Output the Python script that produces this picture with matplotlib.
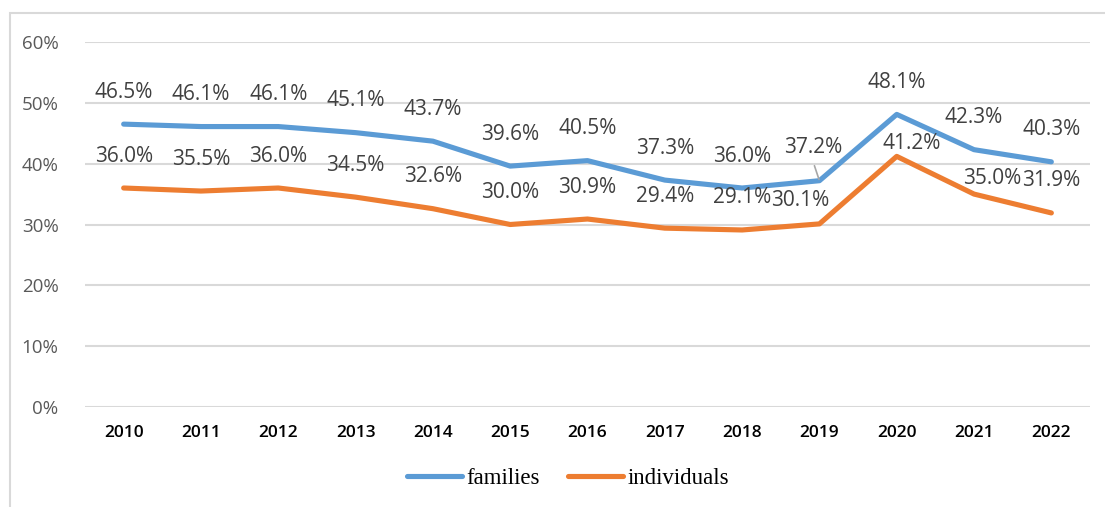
import matplotlib
matplotlib.use("Agg")
import matplotlib.pyplot as plt
import matplotlib.patches as mpatches
import numpy as np

years = ["2010", "2011", "2012", "2013", "2014", "2015", "2016",
         "2017", "2018", "2019", "2020", "2021", "2022"]
families = [46.5, 46.1, 46.1, 45.1, 43.7, 39.6, 40.5, 37.3, 36.0, 37.2, 48.1, 42.3, 40.3]
individuals = [36.0, 35.5, 36.0, 34.5, 32.6, 30.0, 30.9, 29.4, 29.1, 30.1, 41.2, 35.0, 31.9]
yticks = [0, 10, 20, 30, 40, 50, 60]

BLUE = "#5B9BD5"
ORANGE = "#ED7D31"
GRID = "#D9D9D9"

# label offsets in pixels (dx, dy) where the default (0, 32) was moved
fam_off = {9: (-6, 33)}
ind_off = {9: (-19, 23), 10: (15, 13), 11: (18, 16)}

W, H = 1105, 507
fig = plt.figure(figsize=(W / 100, H / 100), dpi=100)
ax = fig.add_axes([85 / W, (H - 407) / H, (1090 - 85) / W, (407 - 42) / H])

# outer chart border (cropped on the right and bottom)
fig.patches.append(mpatches.Rectangle((10 / W, -0.1), 1.2, (H - 13) / H + 0.1,
                                      transform=fig.transFigure, fill=False,
                                      edgecolor=GRID, lw=1.5))

x = np.arange(len(years))
ax.plot(x, families, color=BLUE, lw=3.7, solid_capstyle="round", label="families", zorder=3)
ax.plot(x, individuals, color=ORANGE, lw=3.7, solid_capstyle="round", label="individuals", zorder=3)

px = 0.72  # points per pixel
for series, offs in ((families, fam_off), (individuals, ind_off)):
    for i, v in enumerate(series):
        dx, dy = offs.get(i, (0, 32))
        ax.annotate(f"{v:.1f}%", (i, v), xytext=(dx * px, dy * px),
                    textcoords="offset points", ha="center", va="center",
                    fontsize=15, color="#404040", family="Open Sans", zorder=4)

# leader line for the 2019 families label
ax.annotate("", (9, families[9]), xytext=(-5 * px, 15 * px), textcoords="offset points",
            arrowprops=dict(arrowstyle="-", color="#A6A6A6", lw=1.2,
                            shrinkA=0, shrinkB=1))

ax.set_xlim(-0.5, len(years) - 0.5)
ax.set_ylim(0, 60)
ax.set_yticks(yticks)
ax.set_yticklabels([f"{t}%" for t in yticks], fontsize=13.5, color="#595959", family="Open Sans")
ax.set_xticks(x)
ax.set_xticklabels(years, fontsize=12.5, color="black", family="Open Sans", fontweight="semibold")
ax.tick_params(axis="both", length=0)
ax.tick_params(axis="y", pad=19)
ax.tick_params(axis="x", pad=13)
ax.yaxis.grid(True, color=GRID, lw=1.5)
ax.set_axisbelow(True)
for s in ax.spines.values():
    s.set_visible(False)

leg = fig.legend(loc="center", bbox_to_anchor=(568 / W, (H - 478) / H), ncol=2,
                 frameon=False, prop={"family": "Liberation Serif", "size": 16.5},
                 handlelength=2.4, handletextpad=0.2, columnspacing=1.2)
for line in leg.get_lines():
    line.set_linewidth(3.7)

fig.savefig("out.png", dpi=100)
